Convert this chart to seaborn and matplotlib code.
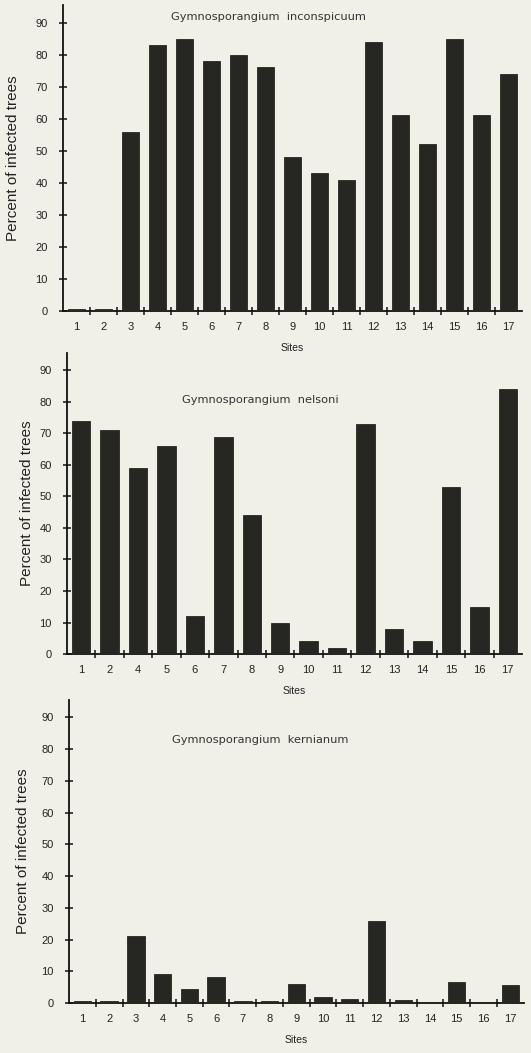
import seaborn as sns
from matplotlib import pyplot as plt
from matplotlib.ticker import FixedLocator
import pandas as pd
import numpy as np

# percent of infected trees per site
sites_inconspicuum = [1, 2, 3, 4, 5, 6, 7, 8, 9, 10, 11, 12, 13, 14, 15, 16, 17]
pct_inconspicuum = [0.5, 0.5, 56, 83, 85, 78, 80, 76, 48, 43, 41, 84, 61, 52, 85, 61, 74]

sites_nelsoni = [1, 2, 4, 5, 6, 7, 8, 9, 10, 11, 12, 13, 14, 15, 16, 17]
pct_nelsoni = [74, 71, 59, 66, 12, 69, 44, 10, 4.2, 2, 73, 8, 4, 53, 15, 84]

sites_kernianum = [1, 2, 3, 4, 5, 6, 7, 8, 9, 10, 11, 12, 13, 14, 15, 16, 17]
pct_kernianum = [0.6, 0.5, 21, 9.2, 4.4, 8.2, 0.5, 0.5, 6, 2, 1.1, 26, 1, 0.4, 6.6, 0.4, 5.7]

titles = ['Gymnosporangium  inconspicuum', 'Gymnosporangium  nelsoni', 'Gymnosporangium  kernianum']
y_ticks = [0, 10, 20, 30, 40, 50, 60, 70, 80, 90]

BG = '#f0f0e9'
BAR = '#262623'

sns.set_theme(style='ticks')
plt.rcParams['font.family'] = ['Liberation Sans', 'DejaVu Sans']

fig = plt.figure(figsize=(5.31, 10.53), dpi=100, facecolor=BG)

# axes boxes in figure fractions [left, bottom, width, height]
boxes = [[0.119, 0.7047, 0.864, 0.2906],
         [0.126, 0.3789, 0.857, 0.2858],
         [0.130, 0.0475, 0.856, 0.2877]]
title_pos = [(7.1, 91.8), (6.3, 80.5), (6.65, 82.8)]
ylabel_pad = [11, 4, 8]
panels = [(sites_inconspicuum, pct_inconspicuum),
          (sites_nelsoni, pct_nelsoni),
          (sites_kernianum, pct_kernianum)]

for box, (sites, pct), title, (tx, ty), ypad in zip(boxes, panels, titles, title_pos, ylabel_pad):
    ax = fig.add_axes(box)
    ax.set_facecolor(BG)
    df = pd.DataFrame({'site': [str(s) for s in sites], 'pct': pct})
    sns.barplot(data=df, x='site', y='pct', color=BAR, saturation=1, width=0.65,
                edgecolor=BAR, linewidth=0.6, ax=ax, zorder=3)
    n = len(sites)
    ax.set_xlim(-0.5, n - 0.5)
    ax.set_ylim(0, 95.5)
    ax.set_yticks(y_ticks)
    ax.xaxis.set_minor_locator(FixedLocator(np.arange(0.5, n - 0.5, 1)))
    ax.tick_params(axis='x', which='major', length=0, pad=8, labelsize=8, colors='#222222')
    ax.tick_params(axis='x', which='minor', length=6, width=1.1, direction='inout', color='#111111')
    ax.tick_params(axis='y', which='major', length=6, width=1.1, direction='inout', pad=8,
                   labelsize=8, colors='#222222')
    ax.tick_params(axis='y', which='major', color='#111111')
    for side in ['top', 'right']:
        ax.spines[side].set_visible(False)
    for side in ['left', 'bottom']:
        ax.spines[side].set_linewidth(1.3)
        ax.spines[side].set_color('#111111')
    ax.set_xlabel('Sites', fontsize=7.5, labelpad=8, color='#222222')
    ax.set_ylabel('Percent of infected trees', fontsize=11, labelpad=ypad, color='#222222')
    ax.text(tx, ty, title, ha='center', va='center', fontsize=8.2, color='#333333',
            family=['DejaVu Sans'])

plt.savefig('out.png', dpi=100, facecolor=BG)
